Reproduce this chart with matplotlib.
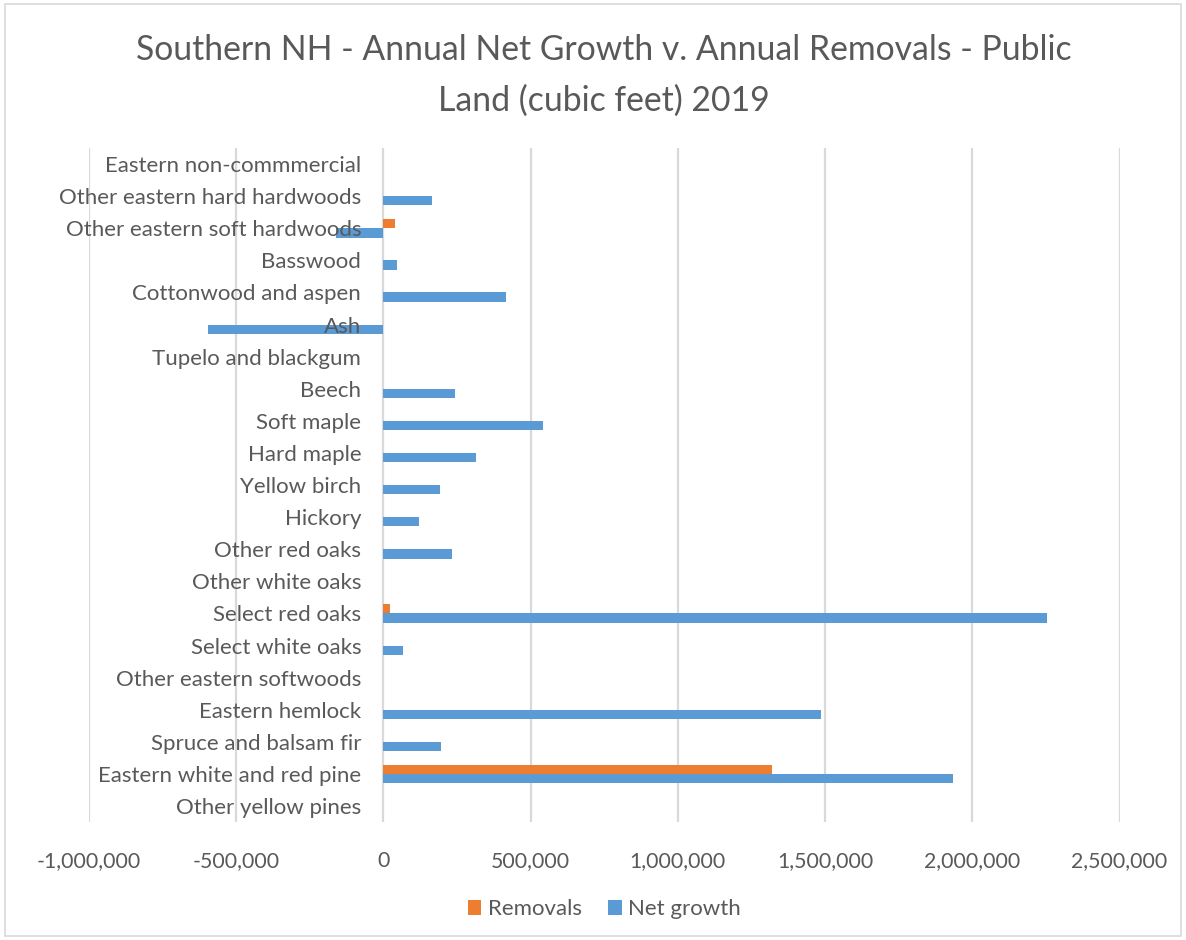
import matplotlib
matplotlib.use('Agg')
import matplotlib.pyplot as plt
import matplotlib.patches as mpatches
import matplotlib.ticker as mticker
import numpy as np

# species groups, listed bottom to top as they appear on the axis
species = [
    'Other yellow pines', 'Eastern white and red pine', 'Spruce and balsam fir',
    'Eastern hemlock', 'Other eastern softwoods', 'Select white oaks',
    'Select red oaks', 'Other white oaks', 'Other red oaks', 'Hickory',
    'Yellow birch', 'Hard maple', 'Soft maple', 'Beech', 'Tupelo and blackgum',
    'Ash', 'Cottonwood and aspen', 'Basswood', 'Other eastern soft hardwoods',
    'Other eastern hard hardwoods', 'Eastern non-commmercial',
]
removals = [0, 1320000, 0, 0, 0, 0, 24000, 0, 0, 0, 0, 0, 0, 0, 0, 0, 0, 0,
            39000, 0, 0]
net_growth = [0, 1933000, 195000, 1486000, 0, 65000, 2252000, 0, 234000,
              120000, 192000, 315000, 542000, 243000, 0, -596000, 415000,
              46000, -160000, 165000, 0]
x_ticks = [-1000000, -500000, 0, 500000, 1000000, 1500000, 2000000, 2500000]

ORANGE = '#ED7D31'
BLUE = '#5B9BD5'
GREY_TXT = '#595959'
GRID = '#D9D9D9'

plt.rcParams['font.family'] = ['Lato', 'DejaVu Sans']

fig = plt.figure(figsize=(11.86, 9.4), dpi=100)
ax = fig.add_axes([0.075, 0.1255, 0.869, 0.717])

y = np.arange(len(species))
h = 0.29
ax.barh(y + h / 2, removals, height=h, color=ORANGE, label='Removals')
ax.barh(y - h / 2, net_growth, height=h, color=BLUE, label='Net growth')

ax.set_xlim(x_ticks[0], x_ticks[-1])
ax.set_ylim(-0.5, len(species) - 0.5)
ax.set_xticks(x_ticks)
ax.xaxis.set_major_formatter(mticker.FuncFormatter(lambda v, p: f'{int(v):,}'))
ax.set_yticks(y)
ax.set_yticklabels(species)

# category labels sit next to the zero line
ax.spines['left'].set_position(('data', 0))
for s in ax.spines.values():
    s.set_visible(False)

# gridlines behind the bars, category labels on top of them
ax.set_axisbelow(True)
ax.yaxis.set_zorder(3)
ax.grid(axis='x', color=GRID, linewidth=1.6)
ax.tick_params(axis='y', length=0, pad=16, labelsize=16, labelcolor=GREY_TXT)
ax.tick_params(axis='x', length=0, pad=21, labelsize=15.3, labelcolor=GREY_TXT)

ax.set_title('Southern NH - Annual Net Growth v. Annual Removals - Public\nLand (cubic feet) 2019',
             fontsize=24.3, color=GREY_TXT, pad=27, linespacing=1.7)

ax.legend(loc='upper center', bbox_to_anchor=(0.5, -0.085), ncol=2, frameon=False,
          fontsize=16, labelcolor=GREY_TXT, handlelength=0.6, handleheight=0.6,
          handletextpad=0.3, columnspacing=1.2)

fig.patches.append(mpatches.Rectangle((0.004, 0.004), 0.992, 0.992, transform=fig.transFigure,
                                      fill=False, edgecolor=GRID, linewidth=1.2))

fig.savefig('out.png', dpi=100)
